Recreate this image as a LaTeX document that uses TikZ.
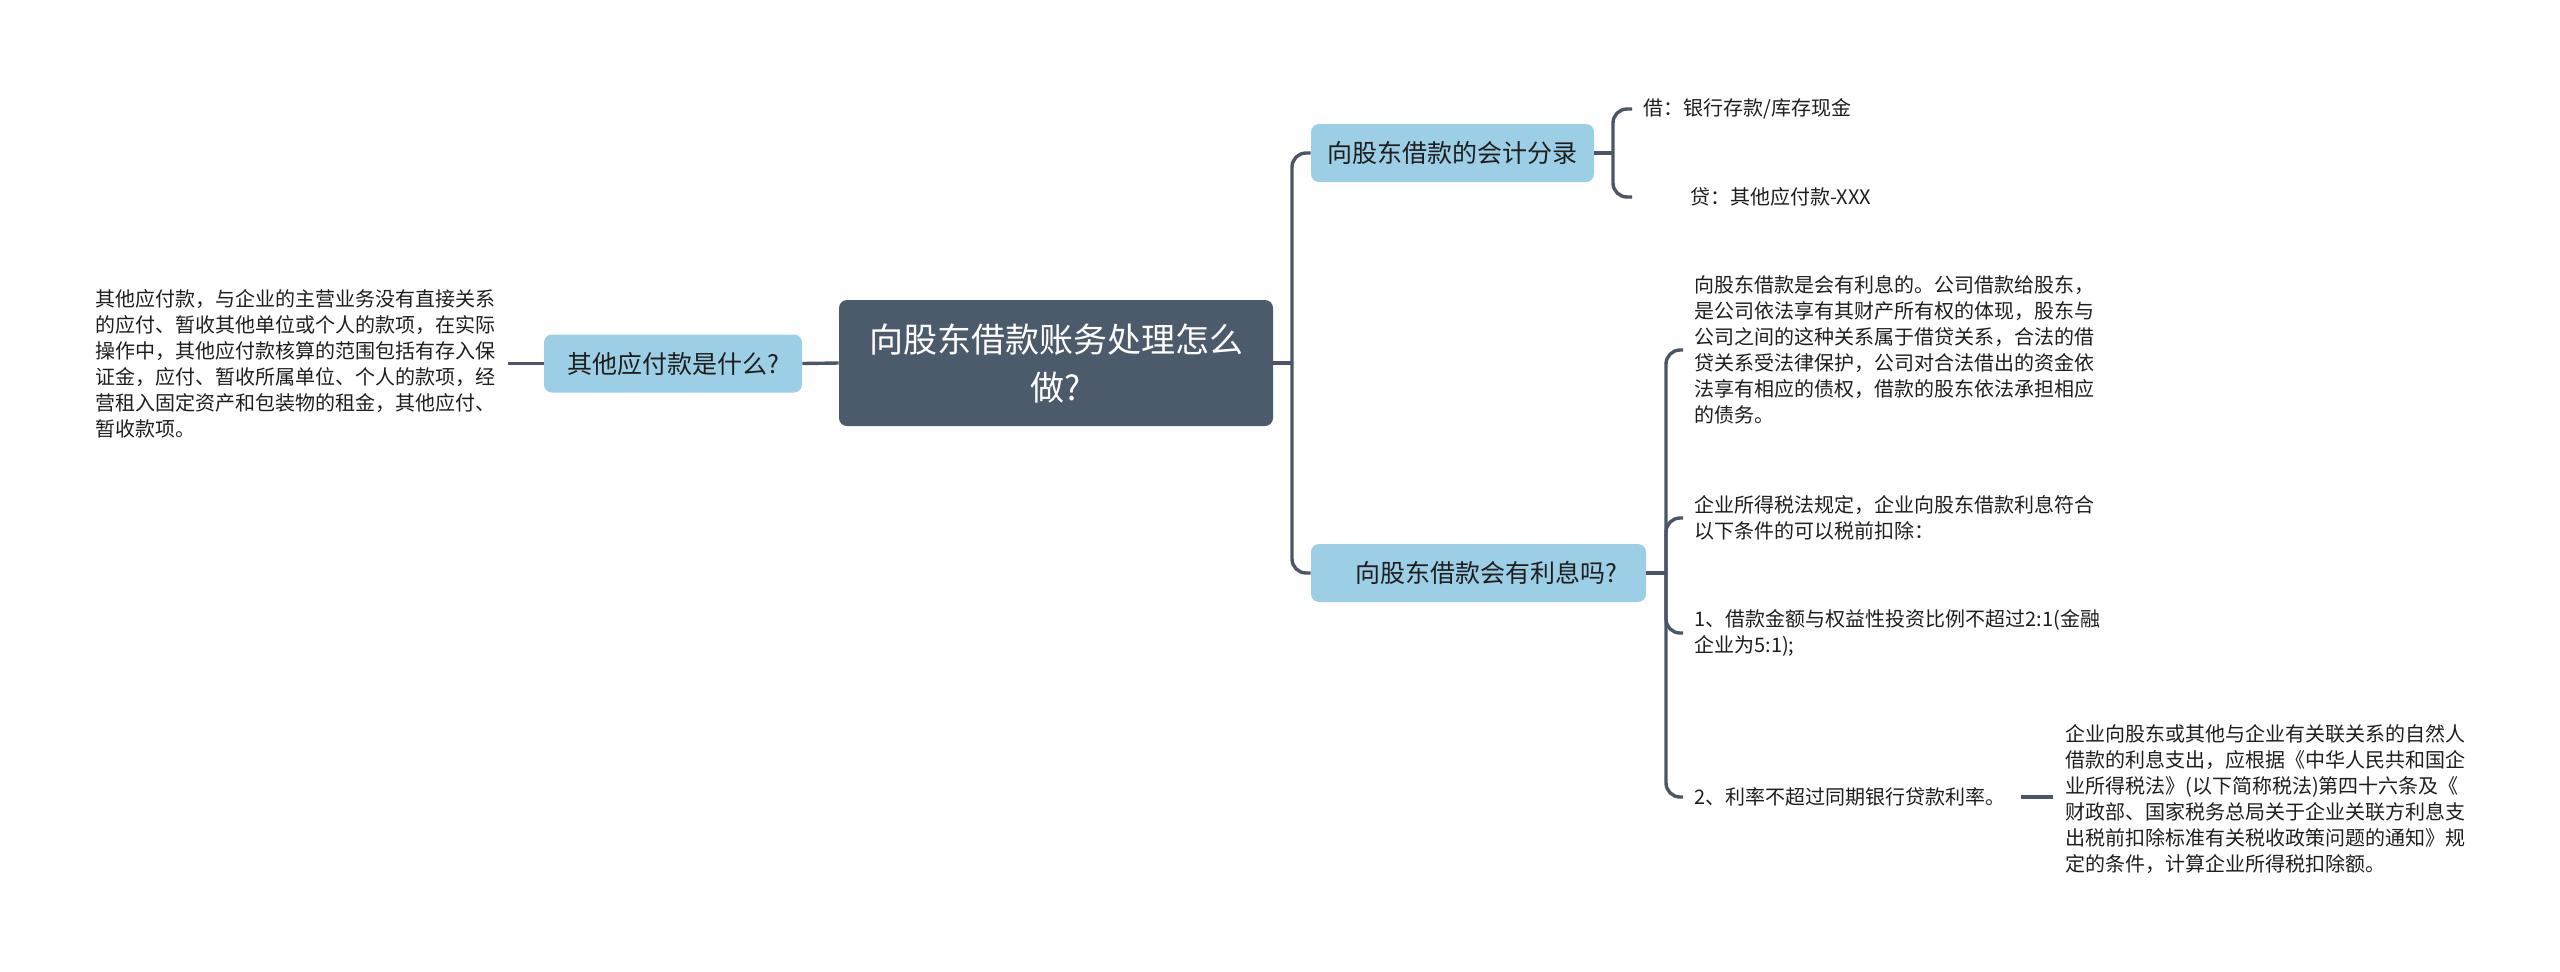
\documentclass[tikz,border=0pt]{standalone}
\usepackage{fontspec}
\setmainfont{Noto Sans CJK SC}
\definecolor{centerfill}{HTML}{4B5B6B}
\definecolor{nodeblue}{HTML}{9CCFE6}
\definecolor{connclr}{HTML}{4A5666}
\definecolor{txt}{HTML}{1E1E1E}
\begin{document}
\begin{tikzpicture}[x=0.5pt,y=-0.5pt,
  centerbox/.style={draw=none,fill=centerfill,rounded corners=4pt,text=white,
    minimum width=217pt,minimum height=63pt,align=center,
    font=\fontsize{17pt}{24pt}\selectfont,inner sep=0pt},
  bluebox/.style={draw=none,fill=nodeblue,rounded corners=4pt,text=txt,
    minimum height=29pt,align=center,font=\fontsize{12.5pt}{15pt}\selectfont,inner sep=0pt},
  leaf/.style={anchor=west,text=txt,align=left,inner xsep=5.5pt,inner ysep=2pt,
    font=\fontsize{10pt}{13pt}\selectfont},
  conn/.style={draw=connclr,line width=1.7pt,rounded corners=7pt}
]
\useasboundingbox (0,0) rectangle (2560,971);

% central and first level
\node[centerbox] (c) at (1056,363) {向股东借款账务处理怎么\\做?};
\node[bluebox,minimum width=129pt] (l) at (673,363.5) {其他应付款是什么?};
\node[bluebox,minimum width=141.5pt] (n1) at (1452.5,153) {向股东借款的会计分录};
\node[bluebox,minimum width=167.5pt] (n2) at (1478.5,573) {\hspace*{8pt}向股东借款会有利息吗?};

% left leaf
\node[leaf,anchor=east,inner xsep=6pt] (lt) at (508,363.5) {其他应付款，与企业的主营业务没有直接关系\\的应付、暂收其他单位或个人的款项，在实际\\操作中，其他应付款核算的范围包括有存入保\\证金，应付、暂收所属单位、个人的款项，经\\营租入固定资产和包装物的租金，其他应付、\\暂收款项。};

% leaves of n1
\node[leaf] (d1) at (1632,109) {借：银行存款/库存现金};
\node[leaf] (d2) at (1632,197) {\hspace*{23.5pt}贷：其他应付款-XXX};

% leaves of n2
\node[leaf] (a1) at (1683,350) {向股东借款是会有利息的。公司借款给股东，\\是公司依法享有其财产所有权的体现，股东与\\公司之间的这种关系属于借贷关系，合法的借\\贷关系受法律保护，公司对合法借出的资金依\\法享有相应的债权，借款的股东依法承担相应\\的债务。};
\node[leaf] (a2) at (1683,518) {企业所得税法规定，企业向股东借款利息符合\\以下条件的可以税前扣除：};
\node[leaf] (a3) at (1683,633) {1、借款金额与权益性投资比例不超过2:1(金融\\企业为5:1);};
\node[leaf] (a4) at (1683,797) {2、利率不超过同期银行贷款利率。};
\node[leaf,inner xsep=6pt] (a5) at (2053,799) {企业向股东或其他与企业有关联关系的自然人\\借款的利息支出，应根据《中华人民共和国企\\业所得税法》(以下简称税法)第四十六条及《\\财政部、国家税务总局关于企业关联方利息支\\出税前扣除标准有关税收政策问题的通知》规\\定的条件，计算企业所得税扣除额。};

% junction points
\coordinate (tA) at (1292,363);
\coordinate (tB) at (1613,153);
\coordinate (tC) at (1666,573);

% connectors
\draw[conn] (l.east) -- (c.west);
\draw[conn] (lt.east) -- (l.west);
\draw[conn] (c.east) -- (tA);
\draw[conn] (tA) |- (n1.west);
\draw[conn] (tA) |- (n2.west);
\draw[conn] (n1.east) -- (tB);
\draw[conn] (tB) |- (d1.west);
\draw[conn] (tB) |- (d2.west);
\draw[conn] (n2.east) -- (tC);
\draw[conn] (tC) |- (a1.west);
\draw[conn] (tC) |- (a2.west);
\draw[conn] (tC) |- (a3.west);
\draw[conn] (tC) |- (a4.west);
\draw[conn,shorten <=2pt] (a4.east) -- (a5.west |- a4.east);
\end{tikzpicture}
\end{document}
